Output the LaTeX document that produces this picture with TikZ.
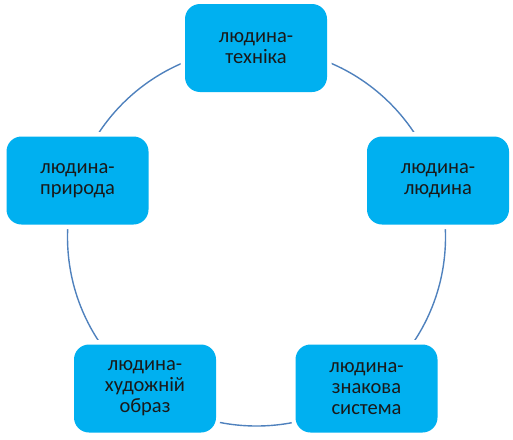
\documentclass[tikz,border=0pt]{standalone}
\usepackage{fontspec}
\setmainfont{Carlito}
\definecolor{boxcyan}{RGB}{0,176,240}
\definecolor{arcblue}{RGB}{79,129,189}
\tikzset{
  stagebox/.style={fill=boxcyan, rounded corners=15pt, minimum width=142pt, minimum height=88pt,
    align=center, text=black!90, font=\fontsize{20.5}{21}\selectfont, inner sep=0pt,
    preaction={draw=white, line width=9pt, rounded corners=15pt}},
  ring/.style={draw=arcblue, line width=1.4pt}
}
\begin{document}
\begin{tikzpicture}[x=1pt,y=-1pt]
\useasboundingbox (0,0) rectangle (513,439);
\coordinate (c) at (256.5,237);
\draw[ring] (c) circle[radius=189pt];
\node[stagebox] (t) at (256,48) {людина-\\техніка};
\node[stagebox] (r) at (438,180.5) {людина-\\людина};
\node[stagebox] (br) at (366.5,388.5) {людина-\\знакова\\система};
\node[stagebox] (bl) at (145,388.5) {людина-\\художній\\образ};
\node[stagebox] (l) at (77.5,180.5) {людина-\\природа};
\end{tikzpicture}
\end{document}
